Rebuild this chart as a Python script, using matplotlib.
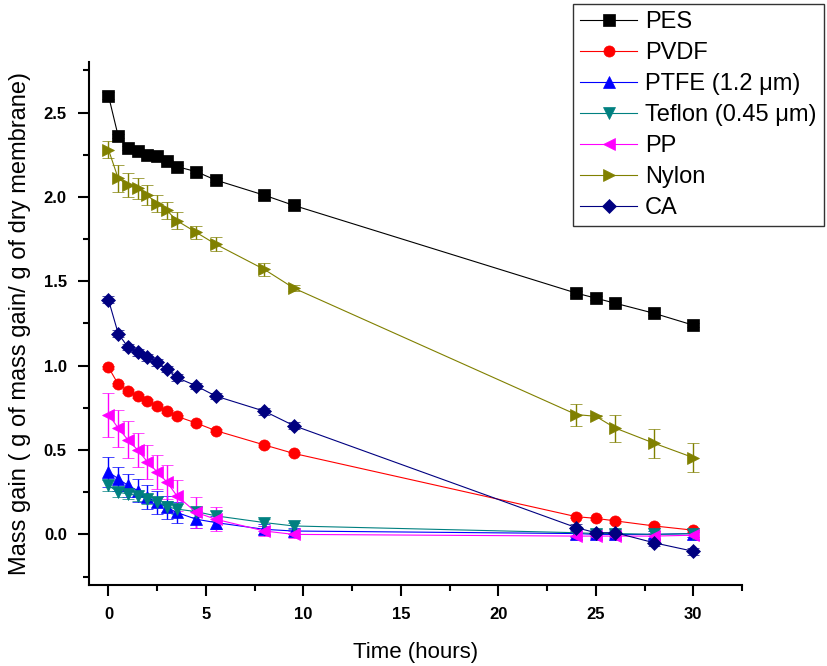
import numpy as np
import matplotlib
matplotlib.use("Agg")
import matplotlib.pyplot as plt
from matplotlib.ticker import MultipleLocator

plt.rcParams['font.family'] = ['Liberation Sans', 'DejaVu Sans']

# tempo de amostragem (horas)
tempo = [0, 0.5, 1, 1.5, 2, 2.5, 3, 3.5, 4.5, 5.5, 8, 9.5, 24, 25, 26, 28, 30]

pes = [2.60, 2.36, 2.29, 2.27, 2.25, 2.24, 2.21, 2.18, 2.15, 2.10, 2.01, 1.95, 1.43, 1.40, 1.37, 1.31, 1.24]
pes_err = [0.02, 0.01, 0.01, 0.01, 0.01, 0.01, 0.01, 0.01, 0.01, 0.01, 0.01, 0.01, 0.01, 0.01, 0.01, 0.01, 0.01]

pvdf = [0.99, 0.89, 0.85, 0.82, 0.79, 0.76, 0.73, 0.70, 0.66, 0.615, 0.53, 0.48, 0.105, 0.095, 0.08, 0.05, 0.025]
pvdf_err = [0.01] * 17

ptfe = [0.37, 0.33, 0.29, 0.26, 0.22, 0.19, 0.16, 0.13, 0.09, 0.07, 0.03, 0.02, 0.005, 0.0, 0.0, 0.0, 0.005]
ptfe_err = [0.09, 0.07, 0.07, 0.07, 0.07, 0.07, 0.07, 0.06, 0.05, 0.04, 0.03, 0.02, 0.02, 0.02, 0.02, 0.02, 0.02]

teflon = [0.29, 0.25, 0.24, 0.23, 0.21, 0.19, 0.165, 0.15, 0.135, 0.11, 0.07, 0.05, 0.01, 0.005, 0.005, 0.0, 0.005]
teflon_err = [0.03, 0.03, 0.03, 0.03, 0.03, 0.03, 0.03, 0.03, 0.03, 0.03, 0.02, 0.02, 0.02, 0.02, 0.02, 0.02, 0.02]

pp = [0.71, 0.63, 0.56, 0.50, 0.43, 0.37, 0.31, 0.23, 0.13, 0.09, 0.02, 0.0, -0.01, -0.01, -0.01, -0.01, -0.005]
pp_err = [0.13, 0.11, 0.11, 0.10, 0.10, 0.10, 0.10, 0.09, 0.09, 0.07, 0.03, 0.02, 0.02, 0.02, 0.02, 0.02, 0.02]

nylon = [2.28, 2.11, 2.07, 2.05, 2.01, 1.96, 1.92, 1.86, 1.79, 1.72, 1.57, 1.46, 0.71, 0.70, 0.63, 0.54, 0.455]
nylon_err = [0.05, 0.08, 0.07, 0.06, 0.06, 0.05, 0.05, 0.05, 0.04, 0.04, 0.04, 0.02, 0.065, 0.01, 0.08, 0.085, 0.085]

ca = [1.39, 1.19, 1.11, 1.08, 1.05, 1.02, 0.98, 0.93, 0.88, 0.82, 0.73, 0.645, 0.04, 0.01, 0.01, -0.05, -0.10]
ca_err = [0.02] * 17

series = [
    ('PES', pes, pes_err, 'black', 's'),
    ('PVDF', pvdf, pvdf_err, 'red', 'o'),
    ('PTFE (1.2 μm)', ptfe, ptfe_err, 'blue', '^'),
    ('Teflon (0.45 μm)', teflon, teflon_err, '#008080', 'v'),
    ('PP', pp, pp_err, 'magenta', '<'),
    ('Nylon', nylon, nylon_err, '#808000', '>'),
    ('CA', ca, ca_err, '#000080', 'D'),
]

fig = plt.figure(figsize=(8.27, 6.66), dpi=100)
ax = fig.add_axes([0.1076, 0.1216, 0.7896, 0.7854])

for nome, y, err, cor, mk in series:
    ms = 7 if mk == 'D' else 8
    ax.errorbar(tempo, y, yerr=err, color=cor, marker=mk, markersize=ms,
                linewidth=0.8, elinewidth=1.0, capsize=4, capthick=1.0,
                markeredgewidth=0.5, label=nome)

ax.set_xlim(-1.0, 32.5)
ax.set_ylim(-0.3, 2.8)
ax.xaxis.set_major_locator(MultipleLocator(5))
ax.xaxis.set_minor_locator(MultipleLocator(2.5))
ax.yaxis.set_major_locator(MultipleLocator(0.5))
ax.yaxis.set_minor_locator(MultipleLocator(0.25))
ax.yaxis.set_major_formatter(matplotlib.ticker.FormatStrFormatter('%.1f'))

ax.spines['top'].set_visible(False)
ax.spines['right'].set_visible(False)
ax.spines['left'].set_linewidth(1.5)
ax.spines['bottom'].set_linewidth(1.5)
ax.tick_params(which='major', direction='out', length=8, width=1.5, labelsize=12, pad=8)
ax.tick_params(which='minor', direction='out', length=4, width=1.5)
for lbl in ax.get_xticklabels() + ax.get_yticklabels():
    lbl.set_fontweight('bold')

ax.set_xlabel('Time (hours)', fontsize=16, labelpad=14)
ax.set_ylabel('Mass gain ( g of mass gain/ g of dry membrane)', fontsize=17, labelpad=9)

handles, labels = ax.get_legend_handles_labels()
handles = [h[0] for h in handles]
leg = fig.legend(handles, labels, loc='upper right', bbox_to_anchor=(0.996, 0.994),
                 fontsize=17, frameon=True, fancybox=False, edgecolor='black',
                 handlelength=2.4, handletextpad=0.35, labelspacing=0.38,
                 borderpad=0.3, borderaxespad=0)
leg.get_frame().set_linewidth(1.0)

fig.savefig('out.png', dpi=100)
